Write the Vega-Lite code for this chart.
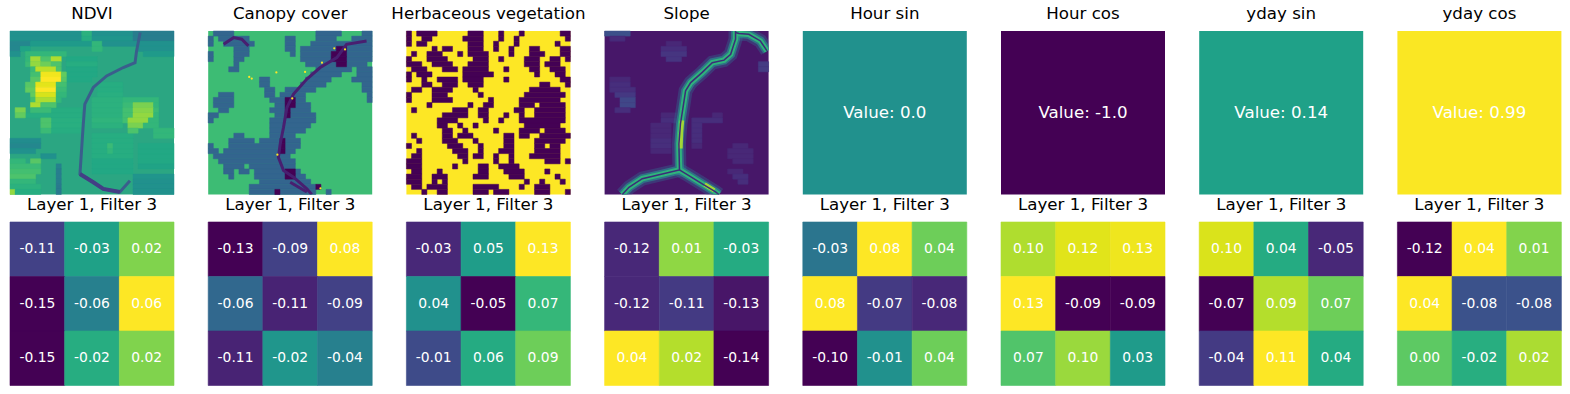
{"$schema":"https://vega.github.io/schema/vega-lite/v6.json","padding":{"left":9,"top":6,"right":0,"bottom":0},"autosize":"pad","background":"white","config":{"view":{"stroke":null},"font":"DejaVu Sans","title":{"font":"DejaVu Sans","fontSize":16.67,"fontWeight":"normal","color":"#000","offset":8},"legend":{"disable":true}},
"resolve":{"scale":{"color":"independent","stroke":"independent"}},
"datasets":{
"ndviRuns":[{"r":5,"a":11,"b":17,"v":60},{"r":6,"a":11,"b":17,"v":62},{"r":7,"a":11,"b":17,"v":60},{"r":8,"a":11,"b":17,"v":60},{"r":9,"a":11,"b":16,"v":60},{"r":10,"a":17,"b":22,"v":62},{"r":11,"a":17,"b":22,"v":62},{"r":12,"a":17,"b":22,"v":63},{"r":13,"a":16,"b":22,"v":64},{"r":14,"a":16,"b":22,"v":64},{"r":15,"a":8,"b":14,"v":62},{"r":15,"a":16,"b":22,"v":64},{"r":16,"a":3,"b":14,"v":62},{"r":16,"a":16,"b":22,"v":64},{"r":17,"a":8,"b":14,"v":63},{"r":17,"a":16,"b":22,"v":65},{"r":18,"a":8,"b":14,"v":63},{"r":18,"a":16,"b":22,"v":64},{"r":19,"a":8,"b":14,"v":62},{"r":20,"a":16,"b":24,"v":62},{"r":21,"a":16,"b":24,"v":62},{"r":22,"a":16,"b":24,"v":62},{"r":22,"a":25,"b":32,"v":60},{"r":23,"a":16,"b":24,"v":62},{"r":23,"a":25,"b":32,"v":60},{"r":24,"a":16,"b":24,"v":62},{"r":24,"a":25,"b":32,"v":60},{"r":25,"a":16,"b":24,"v":60},{"r":25,"a":25,"b":32,"v":60},{"r":26,"a":16,"b":24,"v":60},{"r":26,"a":25,"b":32,"v":58},{"r":27,"a":16,"b":24,"v":60},{"r":0,"a":0,"b":14,"v":50},{"r":0,"a":14,"b":16,"v":64},{"r":0,"a":16,"b":24,"v":50},{"r":0,"a":24,"b":32,"v":42},{"r":1,"a":0,"b":14,"v":50},{"r":1,"a":14,"b":16,"v":62},{"r":1,"a":16,"b":24,"v":52},{"r":1,"a":24,"b":32,"v":42},{"r":2,"a":0,"b":4,"v":46},{"r":2,"a":4,"b":16,"v":54},{"r":2,"a":16,"b":18,"v":66},{"r":2,"a":18,"b":32,"v":50},{"r":3,"a":0,"b":2,"v":46},{"r":3,"a":2,"b":4,"v":58},{"r":3,"a":16,"b":18,"v":66},{"r":3,"a":25,"b":32,"v":50},{"r":4,"a":0,"b":2,"v":50},{"r":4,"a":3,"b":11,"v":66},{"r":4,"a":26,"b":32,"v":54},{"r":5,"a":3,"b":4,"v":66},{"r":5,"a":4,"b":6,"v":86},{"r":5,"a":6,"b":8,"v":72},{"r":5,"a":8,"b":10,"v":88},{"r":6,"a":3,"b":4,"v":68},{"r":6,"a":4,"b":6,"v":84},{"r":6,"a":6,"b":8,"v":78},{"r":6,"a":8,"b":10,"v":72},{"r":7,"a":4,"b":5,"v":68},{"r":7,"a":5,"b":9,"v":90},{"r":7,"a":9,"b":10,"v":72},{"r":8,"a":4,"b":6,"v":70},{"r":8,"a":6,"b":10,"v":98},{"r":8,"a":10,"b":11,"v":76},{"r":9,"a":4,"b":6,"v":74},{"r":9,"a":6,"b":10,"v":100},{"r":9,"a":10,"b":11,"v":74},{"r":10,"a":3,"b":5,"v":74},{"r":10,"a":5,"b":9,"v":96},{"r":10,"a":9,"b":11,"v":70},{"r":11,"a":3,"b":5,"v":76},{"r":11,"a":5,"b":9,"v":100},{"r":11,"a":9,"b":11,"v":68},{"r":12,"a":4,"b":5,"v":76},{"r":12,"a":5,"b":9,"v":94},{"r":12,"a":9,"b":11,"v":66},{"r":13,"a":4,"b":5,"v":70},{"r":13,"a":5,"b":9,"v":88},{"r":13,"a":9,"b":10,"v":66},{"r":13,"a":22,"b":29,"v":66},{"r":14,"a":4,"b":6,"v":88},{"r":14,"a":6,"b":9,"v":72},{"r":14,"a":22,"b":24,"v":68},{"r":14,"a":24,"b":28,"v":80},{"r":14,"a":28,"b":29,"v":66},{"r":15,"a":1,"b":3,"v":80},{"r":15,"a":4,"b":8,"v":68},{"r":15,"a":22,"b":24,"v":70},{"r":15,"a":24,"b":28,"v":82},{"r":15,"a":28,"b":29,"v":68},{"r":16,"a":1,"b":3,"v":76},{"r":16,"a":22,"b":24,"v":70},{"r":16,"a":24,"b":28,"v":84},{"r":16,"a":28,"b":29,"v":66},{"r":17,"a":6,"b":8,"v":72},{"r":17,"a":22,"b":23,"v":70},{"r":17,"a":23,"b":27,"v":84},{"r":17,"a":27,"b":29,"v":66},{"r":18,"a":6,"b":8,"v":72},{"r":18,"a":23,"b":26,"v":80},{"r":18,"a":26,"b":29,"v":66},{"r":19,"a":6,"b":8,"v":68},{"r":19,"a":23,"b":25,"v":72},{"r":19,"a":28,"b":32,"v":66},{"r":20,"a":28,"b":32,"v":66},{"r":21,"a":0,"b":6,"v":48},{"r":22,"a":0,"b":6,"v":46},{"r":22,"a":19,"b":20,"v":68},{"r":23,"a":0,"b":5,"v":50},{"r":23,"a":19,"b":20,"v":66},{"r":24,"a":6,"b":9,"v":50},{"r":25,"a":0,"b":3,"v":66},{"r":25,"a":4,"b":6,"v":74},{"r":26,"a":0,"b":6,"v":68},{"r":26,"a":9,"b":10,"v":44},{"r":27,"a":0,"b":6,"v":70},{"r":27,"a":9,"b":10,"v":42},{"r":28,"a":0,"b":5,"v":72},{"r":28,"a":9,"b":10,"v":42},{"r":28,"a":24,"b":32,"v":52},{"r":29,"a":0,"b":5,"v":66},{"r":29,"a":9,"b":10,"v":42},{"r":29,"a":24,"b":32,"v":50},{"r":30,"a":0,"b":6,"v":64},{"r":30,"a":9,"b":10,"v":40},{"r":30,"a":24,"b":32,"v":50},{"r":31,"a":0,"b":1,"v":84},{"r":31,"a":1,"b":6,"v":62},{"r":31,"a":9,"b":10,"v":40},{"r":31,"a":24,"b":32,"v":50}],
"ndviLine":[{"s":"m","i":0,"x":25.4,"y":0.3},{"s":"m","i":1,"x":24.7,"y":3.9},{"s":"m","i":2,"x":24.4,"y":6.2},{"s":"m","i":3,"x":22.1,"y":7.15},{"s":"m","i":4,"x":18.85,"y":8.8},{"s":"m","i":5,"x":16.25,"y":11.05},{"s":"m","i":6,"x":14.6,"y":14.3},{"s":"m","i":7,"x":14.3,"y":18.2},{"s":"m","i":8,"x":14,"y":22.75},{"s":"m","i":9,"x":13.65,"y":28},{"s":"m","i":10,"x":16.25,"y":29.6},{"s":"m","i":11,"x":18.2,"y":30.9},{"s":"m","i":12,"x":21.45,"y":31.5},{"s":"m","i":13,"x":23.4,"y":29.3}],
"ndviLineLow":[{"s":"m","i":0,"x":13.65,"y":28},{"s":"m","i":1,"x":16.25,"y":29.6},{"s":"m","i":2,"x":18.2,"y":30.9},{"s":"m","i":3,"x":21.45,"y":31.5}],
"canopyRuns":[{"r":0,"a":1,"b":5,"v":32},{"r":0,"a":21,"b":26,"v":32},{"r":0,"a":30,"b":32,"v":32},{"r":1,"a":0,"b":1,"v":32},{"r":1,"a":2,"b":8,"v":32},{"r":1,"a":15,"b":17,"v":32},{"r":1,"a":21,"b":25,"v":32},{"r":1,"a":28,"b":32,"v":32},{"r":2,"a":0,"b":1,"v":32},{"r":2,"a":3,"b":9,"v":32},{"r":2,"a":15,"b":17,"v":32},{"r":2,"a":20,"b":32,"v":32},{"r":3,"a":5,"b":8,"v":32},{"r":3,"a":15,"b":17,"v":32},{"r":3,"a":18,"b":32,"v":32},{"r":4,"a":0,"b":1,"v":32},{"r":4,"a":5,"b":8,"v":32},{"r":4,"a":16,"b":17,"v":32},{"r":4,"a":18,"b":32,"v":32},{"r":5,"a":0,"b":1,"v":32},{"r":5,"a":5,"b":7,"v":32},{"r":5,"a":18,"b":32,"v":32},{"r":6,"a":5,"b":6,"v":32},{"r":6,"a":19,"b":31,"v":32},{"r":7,"a":4,"b":6,"v":32},{"r":7,"a":21,"b":28,"v":32},{"r":7,"a":29,"b":32,"v":32},{"r":8,"a":20,"b":26,"v":32},{"r":8,"a":29,"b":32,"v":32},{"r":9,"a":10,"b":12,"v":32},{"r":9,"a":19,"b":24,"v":32},{"r":9,"a":28,"b":32,"v":32},{"r":10,"a":10,"b":12,"v":32},{"r":10,"a":18,"b":23,"v":32},{"r":10,"a":30,"b":32,"v":32},{"r":11,"a":11,"b":13,"v":32},{"r":11,"a":15,"b":21,"v":32},{"r":11,"a":30,"b":32,"v":32},{"r":12,"a":2,"b":5,"v":32},{"r":12,"a":11,"b":13,"v":32},{"r":12,"a":14,"b":19,"v":32},{"r":12,"a":31,"b":32,"v":32},{"r":13,"a":1,"b":5,"v":32},{"r":13,"a":12,"b":19,"v":32},{"r":13,"a":31,"b":32,"v":32},{"r":14,"a":1,"b":5,"v":32},{"r":14,"a":13,"b":20,"v":32},{"r":15,"a":2,"b":4,"v":32},{"r":15,"a":12,"b":20,"v":32},{"r":16,"a":0,"b":2,"v":32},{"r":16,"a":13,"b":21,"v":32},{"r":17,"a":0,"b":1,"v":32},{"r":17,"a":12,"b":21,"v":32},{"r":18,"a":12,"b":20,"v":32},{"r":19,"a":12,"b":19,"v":32},{"r":20,"a":5,"b":7,"v":32},{"r":20,"a":12,"b":17,"v":32},{"r":21,"a":4,"b":9,"v":32},{"r":21,"a":10,"b":18,"v":32},{"r":22,"a":0,"b":1,"v":32},{"r":22,"a":4,"b":18,"v":32},{"r":23,"a":0,"b":2,"v":32},{"r":23,"a":3,"b":17,"v":32},{"r":24,"a":1,"b":16,"v":32},{"r":25,"a":2,"b":17,"v":32},{"r":26,"a":3,"b":7,"v":32},{"r":26,"a":8,"b":17,"v":32},{"r":27,"a":3,"b":5,"v":32},{"r":27,"a":6,"b":8,"v":32},{"r":27,"a":9,"b":18,"v":32},{"r":28,"a":4,"b":5,"v":32},{"r":28,"a":9,"b":19,"v":32},{"r":29,"a":10,"b":20,"v":32},{"r":30,"a":8,"b":21,"v":32},{"r":31,"a":8,"b":21,"v":32},{"r":31,"a":23,"b":24,"v":32},{"r":3,"a":25,"b":27,"v":0},{"r":4,"a":24,"b":27,"v":0},{"r":5,"a":24,"b":27,"v":0},{"r":6,"a":25,"b":27,"v":0},{"r":13,"a":15,"b":17,"v":0},{"r":14,"a":15,"b":17,"v":0},{"r":15,"a":15,"b":16,"v":0},{"r":16,"a":15,"b":16,"v":0},{"r":21,"a":14,"b":15,"v":0},{"r":22,"a":14,"b":15,"v":0},{"r":23,"a":14,"b":15,"v":0},{"r":27,"a":15,"b":17,"v":0},{"r":28,"a":15,"b":17,"v":0},{"r":30,"a":21,"b":22,"v":0},{"r":31,"a":13,"b":14,"v":0}],
"canopySpecks":[{"x":8.5,"y":9.3},{"x":8,"y":9},{"x":13.3,"y":8.1},{"x":24.6,"y":3.4},{"x":16.4,"y":13.2},{"x":13.5,"y":24.2},{"x":21.9,"y":30.8},{"x":22.2,"y":6.2},{"x":18.9,"y":8},{"x":26.7,"y":3.6}],
"canopyLine":[{"s":"m","i":0,"x":30.9,"y":1.95},{"s":"m","i":1,"x":27,"y":2.6},{"s":"m","i":2,"x":25.1,"y":5.2},{"s":"m","i":3,"x":21.85,"y":7.15},{"s":"m","i":4,"x":19.25,"y":9.4},{"s":"m","i":5,"x":16.65,"y":12.35},{"s":"m","i":6,"x":15.35,"y":15},{"s":"m","i":7,"x":14.7,"y":18.85},{"s":"m","i":8,"x":14.05,"y":22.1},{"s":"m","i":9,"x":13.7,"y":24.7},{"s":"m","i":10,"x":14.7,"y":27.3},{"s":"m","i":11,"x":16.65,"y":28.6},{"s":"m","i":12,"x":19.25,"y":30.9},{"s":"m","i":13,"x":20.2,"y":32},{"s":"t","i":0,"x":3,"y":2.6},{"s":"t","i":1,"x":4.95,"y":1.3},{"s":"t","i":2,"x":6.55,"y":1.6},{"s":"t","i":3,"x":7.85,"y":2.9},{"s":"b","i":0,"x":16,"y":29.6},{"s":"b","i":1,"x":19.25,"y":31.5}],
"herbRuns":[{"r":0,"a":0,"b":1},{"r":0,"a":2,"b":6},{"r":0,"a":12,"b":15},{"r":0,"a":18,"b":19},{"r":0,"a":22,"b":23},{"r":0,"a":30,"b":32},{"r":1,"a":0,"b":1},{"r":1,"a":3,"b":5},{"r":1,"a":11,"b":15},{"r":1,"a":18,"b":19},{"r":1,"a":21,"b":22},{"r":1,"a":31,"b":32},{"r":2,"a":0,"b":1},{"r":2,"a":2,"b":4},{"r":2,"a":12,"b":15},{"r":2,"a":17,"b":18},{"r":2,"a":21,"b":22},{"r":2,"a":29,"b":30},{"r":3,"a":5,"b":6},{"r":3,"a":7,"b":9},{"r":3,"a":12,"b":15},{"r":3,"a":17,"b":18},{"r":3,"a":20,"b":21},{"r":3,"a":24,"b":26},{"r":3,"a":30,"b":32},{"r":4,"a":1,"b":2},{"r":4,"a":4,"b":7},{"r":4,"a":10,"b":11},{"r":4,"a":12,"b":16},{"r":4,"a":20,"b":21},{"r":4,"a":24,"b":27},{"r":4,"a":30,"b":32},{"r":5,"a":0,"b":1},{"r":5,"a":4,"b":8},{"r":5,"a":13,"b":16},{"r":5,"a":18,"b":19},{"r":5,"a":23,"b":26},{"r":5,"a":28,"b":30},{"r":5,"a":31,"b":32},{"r":6,"a":0,"b":3},{"r":6,"a":5,"b":9},{"r":6,"a":12,"b":16},{"r":6,"a":23,"b":26},{"r":6,"a":27,"b":30},{"r":7,"a":1,"b":4},{"r":7,"a":7,"b":10},{"r":7,"a":11,"b":16},{"r":7,"a":19,"b":20},{"r":7,"a":24,"b":26},{"r":7,"a":28,"b":31},{"r":8,"a":0,"b":1},{"r":8,"a":2,"b":5},{"r":8,"a":11,"b":17},{"r":8,"a":25,"b":26},{"r":8,"a":29,"b":31},{"r":9,"a":0,"b":1},{"r":9,"a":3,"b":4},{"r":9,"a":6,"b":10},{"r":9,"a":11,"b":15},{"r":9,"a":19,"b":20},{"r":9,"a":30,"b":32},{"r":10,"a":3,"b":5},{"r":10,"a":7,"b":10},{"r":10,"a":12,"b":15},{"r":10,"a":26,"b":28},{"r":10,"a":31,"b":32},{"r":11,"a":1,"b":3},{"r":11,"a":5,"b":9},{"r":11,"a":13,"b":14},{"r":11,"a":24,"b":30},{"r":12,"a":0,"b":1},{"r":12,"a":5,"b":8},{"r":12,"a":14,"b":15},{"r":12,"a":23,"b":31},{"r":13,"a":0,"b":1},{"r":13,"a":5,"b":9},{"r":13,"a":16,"b":17},{"r":13,"a":22,"b":30},{"r":14,"a":4,"b":5},{"r":14,"a":12,"b":13},{"r":14,"a":15,"b":17},{"r":14,"a":22,"b":25},{"r":14,"a":26,"b":31},{"r":15,"a":1,"b":2},{"r":15,"a":9,"b":12},{"r":15,"a":14,"b":16},{"r":15,"a":21,"b":23},{"r":15,"a":25,"b":31},{"r":16,"a":7,"b":12},{"r":16,"a":14,"b":16},{"r":16,"a":19,"b":20},{"r":16,"a":22,"b":23},{"r":16,"a":25,"b":31},{"r":17,"a":6,"b":10},{"r":17,"a":15,"b":16},{"r":17,"a":18,"b":19},{"r":17,"a":22,"b":31},{"r":18,"a":6,"b":8},{"r":18,"a":10,"b":11},{"r":18,"a":13,"b":14},{"r":18,"a":23,"b":30},{"r":19,"a":7,"b":9},{"r":19,"a":11,"b":12},{"r":19,"a":17,"b":18},{"r":19,"a":22,"b":26},{"r":19,"a":27,"b":31},{"r":20,"a":1,"b":2},{"r":20,"a":7,"b":9},{"r":20,"a":10,"b":13},{"r":20,"a":19,"b":21},{"r":20,"a":22,"b":24},{"r":20,"a":26,"b":32},{"r":21,"a":2,"b":3},{"r":21,"a":7,"b":10},{"r":21,"a":13,"b":14},{"r":21,"a":19,"b":21},{"r":21,"a":25,"b":31},{"r":22,"a":0,"b":1},{"r":22,"a":8,"b":11},{"r":22,"a":14,"b":15},{"r":22,"a":19,"b":21},{"r":22,"a":25,"b":27},{"r":22,"a":28,"b":30},{"r":23,"a":2,"b":3},{"r":23,"a":9,"b":12},{"r":23,"a":14,"b":15},{"r":23,"a":18,"b":21},{"r":23,"a":25,"b":30},{"r":24,"a":1,"b":3},{"r":24,"a":10,"b":12},{"r":24,"a":13,"b":15},{"r":24,"a":17,"b":18},{"r":24,"a":20,"b":21},{"r":24,"a":24,"b":30},{"r":25,"a":0,"b":3},{"r":25,"a":11,"b":12},{"r":25,"a":17,"b":18},{"r":25,"a":20,"b":21},{"r":25,"a":27,"b":30},{"r":25,"a":31,"b":32},{"r":26,"a":0,"b":3},{"r":26,"a":9,"b":10},{"r":26,"a":14,"b":16},{"r":26,"a":18,"b":22},{"r":27,"a":1,"b":3},{"r":27,"a":6,"b":7},{"r":27,"a":14,"b":16},{"r":27,"a":19,"b":23},{"r":27,"a":27,"b":28},{"r":28,"a":0,"b":3},{"r":28,"a":5,"b":8},{"r":28,"a":13,"b":16},{"r":28,"a":20,"b":23},{"r":28,"a":29,"b":30},{"r":29,"a":0,"b":3},{"r":29,"a":5,"b":6},{"r":29,"a":7,"b":8},{"r":29,"a":23,"b":24},{"r":29,"a":26,"b":27},{"r":29,"a":30,"b":31},{"r":30,"a":1,"b":3},{"r":30,"a":4,"b":8},{"r":30,"a":13,"b":18},{"r":30,"a":22,"b":23},{"r":30,"a":25,"b":28},{"r":31,"a":3,"b":4},{"r":31,"a":6,"b":8},{"r":31,"a":13,"b":16},{"r":31,"a":17,"b":20},{"r":31,"a":25,"b":28},{"r":31,"a":31,"b":32}],
"slopeRuns":[{"r":0,"a":0,"b":5,"v":24},{"r":1,"a":1,"b":4,"v":12},{"r":2,"a":12,"b":15,"v":11},{"r":3,"a":11,"b":16,"v":13},{"r":4,"a":11,"b":16,"v":15},{"r":5,"a":12,"b":15,"v":15},{"r":6,"a":30,"b":32,"v":17},{"r":7,"a":30,"b":32,"v":17},{"r":9,"a":1,"b":5,"v":11},{"r":10,"a":1,"b":5,"v":13},{"r":11,"a":1,"b":6,"v":13},{"r":12,"a":2,"b":6,"v":16},{"r":13,"a":3,"b":6,"v":21},{"r":14,"a":3,"b":6,"v":21},{"r":15,"a":2,"b":5,"v":13},{"r":16,"a":11,"b":14,"v":11},{"r":16,"a":21,"b":23,"v":11},{"r":17,"a":11,"b":14,"v":13},{"r":17,"a":17,"b":23,"v":13},{"r":18,"a":9,"b":13,"v":11},{"r":18,"a":17,"b":19,"v":13},{"r":19,"a":9,"b":13,"v":11},{"r":19,"a":17,"b":19,"v":13},{"r":20,"a":9,"b":13,"v":11},{"r":20,"a":17,"b":19,"v":13},{"r":21,"a":9,"b":13,"v":13},{"r":21,"a":17,"b":19,"v":13},{"r":22,"a":9,"b":13,"v":13},{"r":22,"a":17,"b":19,"v":11},{"r":22,"a":25,"b":28,"v":11},{"r":23,"a":9,"b":13,"v":11},{"r":23,"a":24,"b":29,"v":11},{"r":24,"a":24,"b":29,"v":11},{"r":25,"a":25,"b":29,"v":11},{"r":27,"a":24,"b":27,"v":11},{"r":28,"a":25,"b":28,"v":13},{"r":29,"a":26,"b":28,"v":13}],
"slopeLine":[{"s":"m","i":0,"x":25.55,"y":0},{"s":"m","i":1,"x":25.55,"y":1.6},{"s":"m","i":2,"x":24.6,"y":4.55},{"s":"m","i":3,"x":23.3,"y":5.7},{"s":"m","i":4,"x":21,"y":6.2},{"s":"m","i":5,"x":19.05,"y":8.1},{"s":"m","i":6,"x":16.8,"y":10.1},{"s":"m","i":7,"x":15.8,"y":11.7},{"s":"m","i":8,"x":15.3,"y":15},{"s":"m","i":9,"x":14.8,"y":18.2},{"s":"m","i":10,"x":14.5,"y":22.1},{"s":"m","i":11,"x":14.6,"y":26.7},{"s":"m","i":12,"x":14.6,"y":27.2},{"s":"m","i":13,"x":11.25,"y":28},{"s":"m","i":14,"x":7.35,"y":28.9},{"s":"m","i":15,"x":4.75,"y":30.6},{"s":"m","i":16,"x":3.45,"y":32},{"s":"r","i":0,"x":14.6,"y":27.2},{"s":"r","i":1,"x":16.45,"y":28.3},{"s":"r","i":2,"x":19.05,"y":29.9},{"s":"r","i":3,"x":21.65,"y":31.5},{"s":"r","i":4,"x":22.3,"y":32},{"s":"t","i":0,"x":25.55,"y":0.3},{"s":"t","i":1,"x":26.2,"y":0.5},{"s":"t","i":2,"x":28.15,"y":0.65},{"s":"t","i":3,"x":30.4,"y":1.95},{"s":"t","i":4,"x":31.7,"y":3.9}],
"slopeBright":[{"s":"a","i":0,"x":15.1,"y":17.5},{"s":"a","i":1,"x":14.9,"y":20},{"s":"a","i":2,"x":14.8,"y":23},{"s":"b","i":0,"x":19.5,"y":30},{"s":"b","i":1,"x":21.4,"y":31.2}]
},
"spacing":{"row":27,"column":34.2},"bounds":"flush","columns":8,
"concat":[
{"title":"NDVI","width":164,"height":163.5,"view":{"fill":"#2ba682"},"layer":[
{"data":{"name":"ndviRuns"},"mark":{"type":"rect","strokeWidth":0.5},"encoding":{"x":{"field":"a","type":"quantitative","scale":{"domain":[0,32],"nice":false,"zero":false},"axis":null},"x2":{"field":"b"},"y":{"field":"r","type":"ordinal","scale":{"domain":[0,1,2,3,4,5,6,7,8,9,10,11,12,13,14,15,16,17,18,19,20,21,22,23,24,25,26,27,28,29,30,31],"padding":0},"axis":null},"color":{"field":"v","type":"quantitative","scale":{"scheme":"viridis","domain":[0,100]},"legend":null},"stroke":{"field":"v","type":"quantitative","scale":{"scheme":"viridis","domain":[0,100]},"legend":null}}},
{"data":{"name":"ndviLine"},"mark":{"type":"line","color":"#3a5e8c","strokeWidth":3,"clip":true},"encoding":{"x":{"field":"x","type":"quantitative","scale":{"domain":[0,32],"nice":false,"zero":false},"axis":null},"y":{"field":"y","type":"quantitative","scale":{"domain":[32,0],"nice":false,"zero":false},"axis":null},"order":{"field":"i"},"detail":{"field":"s"}}},
{"data":{"name":"ndviLineLow"},"mark":{"type":"line","color":"#433e85","strokeWidth":4,"clip":true},"encoding":{"x":{"field":"x","type":"quantitative","scale":{"domain":[0,32],"nice":false,"zero":false},"axis":null},"y":{"field":"y","type":"quantitative","scale":{"domain":[32,0],"nice":false,"zero":false},"axis":null},"order":{"field":"i"},"detail":{"field":"s"}}}
],"resolve":{"scale":{"y":"independent"}}},
{"title":"Canopy cover","width":164,"height":163.5,"view":{"fill":"#3dbc74"},"layer":[
{"data":{"name":"canopyRuns"},"mark":{"type":"rect","strokeWidth":0.5},"encoding":{"x":{"field":"a","type":"quantitative","scale":{"domain":[0,32],"nice":false,"zero":false},"axis":null},"x2":{"field":"b"},"y":{"field":"r","type":"ordinal","scale":{"domain":[0,1,2,3,4,5,6,7,8,9,10,11,12,13,14,15,16,17,18,19,20,21,22,23,24,25,26,27,28,29,30,31],"padding":0},"axis":null},"color":{"field":"v","type":"quantitative","scale":{"scheme":"viridis","domain":[0,100]},"legend":null},"stroke":{"field":"v","type":"quantitative","scale":{"scheme":"viridis","domain":[0,100]},"legend":null}}},
{"data":{"name":"canopyLine"},"mark":{"type":"line","color":"#481f70","strokeWidth":3,"clip":true},"encoding":{"x":{"field":"x","type":"quantitative","scale":{"domain":[0,32],"nice":false,"zero":false},"axis":null},"y":{"field":"y","type":"quantitative","scale":{"domain":[32,0],"nice":false,"zero":false},"axis":null},"order":{"field":"i"},"detail":{"field":"s"}}},
{"data":{"name":"canopySpecks"},"mark":{"type":"point","filled":true,"color":"#fde725","size":5,"opacity":1},"encoding":{"x":{"field":"x","type":"quantitative","scale":{"domain":[0,32],"nice":false,"zero":false},"axis":null},"y":{"field":"y","type":"quantitative","scale":{"domain":[32,0],"nice":false,"zero":false},"axis":null}}}
],"resolve":{"scale":{"y":"independent"}}},
{"title":"Herbaceous vegetation","width":164,"height":163.5,"view":{"fill":"#fde725"},"data":{"name":"herbRuns"},"mark":{"type":"rect","color":"#440154","stroke":"#440154","strokeWidth":0.5},"encoding":{"x":{"field":"a","type":"quantitative","scale":{"domain":[0,32],"nice":false,"zero":false},"axis":null},"x2":{"field":"b"},"y":{"field":"r","type":"ordinal","scale":{"domain":[0,1,2,3,4,5,6,7,8,9,10,11,12,13,14,15,16,17,18,19,20,21,22,23,24,25,26,27,28,29,30,31],"padding":0},"axis":null}}},
{"title":"Slope","width":164,"height":163.5,"view":{"fill":"#471769"},"layer":[
{"data":{"name":"slopeRuns"},"mark":{"type":"rect","strokeWidth":0.5},"encoding":{"x":{"field":"a","type":"quantitative","scale":{"domain":[0,32],"nice":false,"zero":false},"axis":null},"x2":{"field":"b"},"y":{"field":"r","type":"ordinal","scale":{"domain":[0,1,2,3,4,5,6,7,8,9,10,11,12,13,14,15,16,17,18,19,20,21,22,23,24,25,26,27,28,29,30,31],"padding":0},"axis":null},"color":{"field":"v","type":"quantitative","scale":{"scheme":"viridis","domain":[0,100]},"legend":null},"stroke":{"field":"v","type":"quantitative","scale":{"scheme":"viridis","domain":[0,100]},"legend":null}}},
{"data":{"name":"slopeLine"},"mark":{"type":"line","color":"#31688e","strokeWidth":14,"opacity":0.4,"clip":true},"encoding":{"x":{"field":"x","type":"quantitative","scale":{"domain":[0,32],"nice":false,"zero":false},"axis":null},"y":{"field":"y","type":"quantitative","scale":{"domain":[32,0],"nice":false,"zero":false},"axis":null},"order":{"field":"i"},"detail":{"field":"s"}}},
{"data":{"name":"slopeLine"},"mark":{"type":"line","color":"#2a8a8c","strokeWidth":9,"opacity":0.7,"clip":true},"encoding":{"x":{"field":"x","type":"quantitative","scale":{"domain":[0,32],"nice":false,"zero":false},"axis":null},"y":{"field":"y","type":"quantitative","scale":{"domain":[32,0],"nice":false,"zero":false},"axis":null},"order":{"field":"i"},"detail":{"field":"s"}}},
{"data":{"name":"slopeLine"},"mark":{"type":"line","color":"#2fb47c","strokeWidth":5.5,"clip":true},"encoding":{"x":{"field":"x","type":"quantitative","scale":{"domain":[0,32],"nice":false,"zero":false},"axis":null},"y":{"field":"y","type":"quantitative","scale":{"domain":[32,0],"nice":false,"zero":false},"axis":null},"order":{"field":"i"},"detail":{"field":"s"}}},
{"data":{"name":"slopeBright"},"mark":{"type":"line","color":"#b5de2b","strokeWidth":4.5,"opacity":0.85,"clip":true},"encoding":{"x":{"field":"x","type":"quantitative","scale":{"domain":[0,32],"nice":false,"zero":false},"axis":null},"y":{"field":"y","type":"quantitative","scale":{"domain":[32,0],"nice":false,"zero":false},"axis":null},"order":{"field":"i"},"detail":{"field":"s"}}},
{"data":{"name":"slopeLine"},"mark":{"type":"line","color":"#3c2d78","strokeWidth":1.5,"clip":true},"encoding":{"x":{"field":"x","type":"quantitative","scale":{"domain":[0,32],"nice":false,"zero":false},"axis":null},"y":{"field":"y","type":"quantitative","scale":{"domain":[32,0],"nice":false,"zero":false},"axis":null},"order":{"field":"i"},"detail":{"field":"s"}}}
],"resolve":{"scale":{"y":"independent"}}},
{"title":"Hour sin","width":164,"height":163.5,"data":{"values":[{"v":0,"t":"Value: 0.0"}]},"layer":[{"mark":"rect","encoding":{"color":{"field":"v","type":"quantitative","scale":{"scheme":"viridis","domain":[-1,1]},"legend":null}}},{"mark":{"type":"text","color":"white","fontSize":16.67,"font":"DejaVu Sans"},"encoding":{"text":{"field":"t"}}}]},
{"title":"Hour cos","width":164,"height":163.5,"data":{"values":[{"v":-1,"t":"Value: -1.0"}]},"layer":[{"mark":"rect","encoding":{"color":{"field":"v","type":"quantitative","scale":{"scheme":"viridis","domain":[-1,1]},"legend":null}}},{"mark":{"type":"text","color":"white","fontSize":16.67,"font":"DejaVu Sans"},"encoding":{"text":{"field":"t"}}}]},
{"title":"yday sin","width":164,"height":163.5,"data":{"values":[{"v":0.14,"t":"Value: 0.14"}]},"layer":[{"mark":"rect","encoding":{"color":{"field":"v","type":"quantitative","scale":{"scheme":"viridis","domain":[-1,1]},"legend":null}}},{"mark":{"type":"text","color":"white","fontSize":16.67,"font":"DejaVu Sans"},"encoding":{"text":{"field":"t"}}}]},
{"title":"yday cos","width":164,"height":163.5,"data":{"values":[{"v":0.99,"t":"Value: 0.99"}]},"layer":[{"mark":"rect","encoding":{"color":{"field":"v","type":"quantitative","scale":{"scheme":"viridis","domain":[-1,1]},"legend":null}}},{"mark":{"type":"text","color":"white","fontSize":16.67,"font":"DejaVu Sans"},"encoding":{"text":{"field":"t"}}}]},
{"title":"Layer 1, Filter 3","width":164,"height":163.5,"data":{"values":[{"c":0,"r":0,"v":-0.11,"t":"-0.11"},{"c":1,"r":0,"v":-0.03,"t":"-0.03"},{"c":2,"r":0,"v":0.02,"t":"0.02"},{"c":0,"r":1,"v":-0.15,"t":"-0.15"},{"c":1,"r":1,"v":-0.06,"t":"-0.06"},{"c":2,"r":1,"v":0.06,"t":"0.06"},{"c":0,"r":2,"v":-0.15,"t":"-0.15"},{"c":1,"r":2,"v":-0.02,"t":"-0.02"},{"c":2,"r":2,"v":0.02,"t":"0.02"}]},"encoding":{"x":{"field":"c","type":"ordinal","axis":null},"y":{"field":"r","type":"ordinal","axis":null}},"layer":[{"mark":{"type":"rect","strokeWidth":0.6},"encoding":{"color":{"field":"v","type":"quantitative","scale":{"scheme":"viridis"},"legend":null},"stroke":{"field":"v","type":"quantitative","scale":{"scheme":"viridis"},"legend":null}}},{"mark":{"type":"text","color":"white","fontSize":13.89,"font":"DejaVu Sans"},"encoding":{"text":{"field":"t"}}}]},
{"title":"Layer 1, Filter 3","width":164,"height":163.5,"data":{"values":[{"c":0,"r":0,"v":-0.13,"t":"-0.13"},{"c":1,"r":0,"v":-0.09,"t":"-0.09"},{"c":2,"r":0,"v":0.08,"t":"0.08"},{"c":0,"r":1,"v":-0.06,"t":"-0.06"},{"c":1,"r":1,"v":-0.11,"t":"-0.11"},{"c":2,"r":1,"v":-0.09,"t":"-0.09"},{"c":0,"r":2,"v":-0.11,"t":"-0.11"},{"c":1,"r":2,"v":-0.02,"t":"-0.02"},{"c":2,"r":2,"v":-0.04,"t":"-0.04"}]},"encoding":{"x":{"field":"c","type":"ordinal","axis":null},"y":{"field":"r","type":"ordinal","axis":null}},"layer":[{"mark":{"type":"rect","strokeWidth":0.6},"encoding":{"color":{"field":"v","type":"quantitative","scale":{"scheme":"viridis"},"legend":null},"stroke":{"field":"v","type":"quantitative","scale":{"scheme":"viridis"},"legend":null}}},{"mark":{"type":"text","color":"white","fontSize":13.89,"font":"DejaVu Sans"},"encoding":{"text":{"field":"t"}}}]},
{"title":"Layer 1, Filter 3","width":164,"height":163.5,"data":{"values":[{"c":0,"r":0,"v":-0.03,"t":"-0.03"},{"c":1,"r":0,"v":0.05,"t":"0.05"},{"c":2,"r":0,"v":0.13,"t":"0.13"},{"c":0,"r":1,"v":0.04,"t":"0.04"},{"c":1,"r":1,"v":-0.05,"t":"-0.05"},{"c":2,"r":1,"v":0.07,"t":"0.07"},{"c":0,"r":2,"v":-0.01,"t":"-0.01"},{"c":1,"r":2,"v":0.06,"t":"0.06"},{"c":2,"r":2,"v":0.09,"t":"0.09"}]},"encoding":{"x":{"field":"c","type":"ordinal","axis":null},"y":{"field":"r","type":"ordinal","axis":null}},"layer":[{"mark":{"type":"rect","strokeWidth":0.6},"encoding":{"color":{"field":"v","type":"quantitative","scale":{"scheme":"viridis"},"legend":null},"stroke":{"field":"v","type":"quantitative","scale":{"scheme":"viridis"},"legend":null}}},{"mark":{"type":"text","color":"white","fontSize":13.89,"font":"DejaVu Sans"},"encoding":{"text":{"field":"t"}}}]},
{"title":"Layer 1, Filter 3","width":164,"height":163.5,"data":{"values":[{"c":0,"r":0,"v":-0.12,"t":"-0.12"},{"c":1,"r":0,"v":0.01,"t":"0.01"},{"c":2,"r":0,"v":-0.03,"t":"-0.03"},{"c":0,"r":1,"v":-0.12,"t":"-0.12"},{"c":1,"r":1,"v":-0.11,"t":"-0.11"},{"c":2,"r":1,"v":-0.13,"t":"-0.13"},{"c":0,"r":2,"v":0.04,"t":"0.04"},{"c":1,"r":2,"v":0.02,"t":"0.02"},{"c":2,"r":2,"v":-0.14,"t":"-0.14"}]},"encoding":{"x":{"field":"c","type":"ordinal","axis":null},"y":{"field":"r","type":"ordinal","axis":null}},"layer":[{"mark":{"type":"rect","strokeWidth":0.6},"encoding":{"color":{"field":"v","type":"quantitative","scale":{"scheme":"viridis"},"legend":null},"stroke":{"field":"v","type":"quantitative","scale":{"scheme":"viridis"},"legend":null}}},{"mark":{"type":"text","color":"white","fontSize":13.89,"font":"DejaVu Sans"},"encoding":{"text":{"field":"t"}}}]},
{"title":"Layer 1, Filter 3","width":164,"height":163.5,"data":{"values":[{"c":0,"r":0,"v":-0.03,"t":"-0.03"},{"c":1,"r":0,"v":0.08,"t":"0.08"},{"c":2,"r":0,"v":0.04,"t":"0.04"},{"c":0,"r":1,"v":0.08,"t":"0.08"},{"c":1,"r":1,"v":-0.07,"t":"-0.07"},{"c":2,"r":1,"v":-0.08,"t":"-0.08"},{"c":0,"r":2,"v":-0.10,"t":"-0.10"},{"c":1,"r":2,"v":-0.01,"t":"-0.01"},{"c":2,"r":2,"v":0.04,"t":"0.04"}]},"encoding":{"x":{"field":"c","type":"ordinal","axis":null},"y":{"field":"r","type":"ordinal","axis":null}},"layer":[{"mark":{"type":"rect","strokeWidth":0.6},"encoding":{"color":{"field":"v","type":"quantitative","scale":{"scheme":"viridis"},"legend":null},"stroke":{"field":"v","type":"quantitative","scale":{"scheme":"viridis"},"legend":null}}},{"mark":{"type":"text","color":"white","fontSize":13.89,"font":"DejaVu Sans"},"encoding":{"text":{"field":"t"}}}]},
{"title":"Layer 1, Filter 3","width":164,"height":163.5,"data":{"values":[{"c":0,"r":0,"v":0.104,"t":"0.10"},{"c":1,"r":0,"v":0.12,"t":"0.12"},{"c":2,"r":0,"v":0.125,"t":"0.13"},{"c":0,"r":1,"v":0.13,"t":"0.13"},{"c":1,"r":1,"v":-0.09,"t":"-0.09"},{"c":2,"r":1,"v":-0.09,"t":"-0.09"},{"c":0,"r":2,"v":0.07,"t":"0.07"},{"c":1,"r":2,"v":0.097,"t":"0.10"},{"c":2,"r":2,"v":0.03,"t":"0.03"}]},"encoding":{"x":{"field":"c","type":"ordinal","axis":null},"y":{"field":"r","type":"ordinal","axis":null}},"layer":[{"mark":{"type":"rect","strokeWidth":0.6},"encoding":{"color":{"field":"v","type":"quantitative","scale":{"scheme":"viridis"},"legend":null},"stroke":{"field":"v","type":"quantitative","scale":{"scheme":"viridis"},"legend":null}}},{"mark":{"type":"text","color":"white","fontSize":13.89,"font":"DejaVu Sans"},"encoding":{"text":{"field":"t"}}}]},
{"title":"Layer 1, Filter 3","width":164,"height":163.5,"data":{"values":[{"c":0,"r":0,"v":0.10,"t":"0.10"},{"c":1,"r":0,"v":0.04,"t":"0.04"},{"c":2,"r":0,"v":-0.05,"t":"-0.05"},{"c":0,"r":1,"v":-0.07,"t":"-0.07"},{"c":1,"r":1,"v":0.09,"t":"0.09"},{"c":2,"r":1,"v":0.07,"t":"0.07"},{"c":0,"r":2,"v":-0.04,"t":"-0.04"},{"c":1,"r":2,"v":0.11,"t":"0.11"},{"c":2,"r":2,"v":0.04,"t":"0.04"}]},"encoding":{"x":{"field":"c","type":"ordinal","axis":null},"y":{"field":"r","type":"ordinal","axis":null}},"layer":[{"mark":{"type":"rect","strokeWidth":0.6},"encoding":{"color":{"field":"v","type":"quantitative","scale":{"scheme":"viridis"},"legend":null},"stroke":{"field":"v","type":"quantitative","scale":{"scheme":"viridis"},"legend":null}}},{"mark":{"type":"text","color":"white","fontSize":13.89,"font":"DejaVu Sans"},"encoding":{"text":{"field":"t"}}}]},
{"title":"Layer 1, Filter 3","width":164,"height":163.5,"data":{"values":[{"c":0,"r":0,"v":-0.12,"t":"-0.12"},{"c":1,"r":0,"v":0.04,"t":"0.04"},{"c":2,"r":0,"v":0.01,"t":"0.01"},{"c":0,"r":1,"v":0.04,"t":"0.04"},{"c":1,"r":1,"v":-0.08,"t":"-0.08"},{"c":2,"r":1,"v":-0.08,"t":"-0.08"},{"c":0,"r":2,"v":0.00,"t":"0.00"},{"c":1,"r":2,"v":-0.02,"t":"-0.02"},{"c":2,"r":2,"v":0.02,"t":"0.02"}]},"encoding":{"x":{"field":"c","type":"ordinal","axis":null},"y":{"field":"r","type":"ordinal","axis":null}},"layer":[{"mark":{"type":"rect","strokeWidth":0.6},"encoding":{"color":{"field":"v","type":"quantitative","scale":{"scheme":"viridis"},"legend":null},"stroke":{"field":"v","type":"quantitative","scale":{"scheme":"viridis"},"legend":null}}},{"mark":{"type":"text","color":"white","fontSize":13.89,"font":"DejaVu Sans"},"encoding":{"text":{"field":"t"}}}]}
]}
